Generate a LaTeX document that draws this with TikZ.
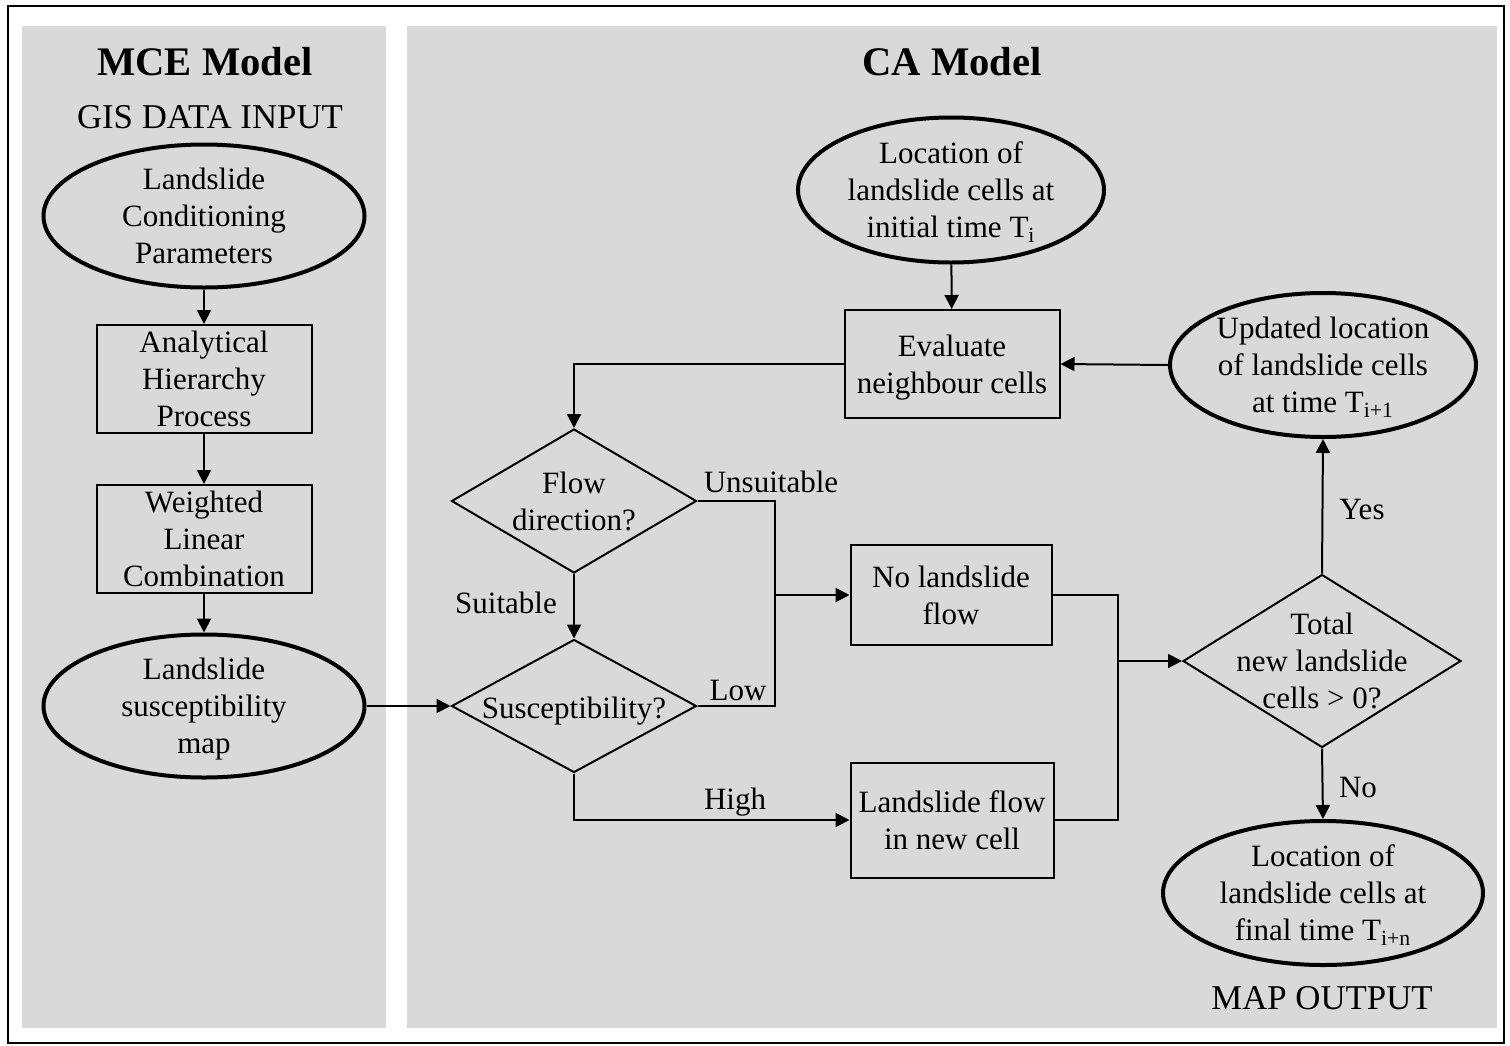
\documentclass[tikz,border=0pt]{standalone}
\usepackage{fontspec}
\setmainfont{Liberation Serif}
\usetikzlibrary{shapes.geometric,arrows.meta}

\begin{document}
\begin{tikzpicture}[x=0.5pt,y=-0.5pt,
  font=\fontsize{15.5}{18.5}\selectfont,
  panel/.style={fill=black!15},
  oval/.style={ellipse,draw,line width=2pt,inner sep=0pt,minimum width=160.5pt,minimum height=71.5pt},
  box/.style={rectangle,draw,line width=1pt,inner sep=0pt},
  dia/.style={diamond,draw,line width=1pt,inner sep=0pt},
  lbl/.style={align=center,inner sep=0pt},
  inlbl/.style={lbl,yshift=-2.75pt,execute at begin node=\strut,execute at end node=\strut},
  arr/.style={line width=1pt,-{Triangle[length=7pt,width=7pt]}},
  ln/.style={line width=1pt}]
\useasboundingbox (0,0) rectangle (1510,1045);
\draw[line width=1pt] (8,6) rectangle (1504,1043);
\fill[panel] (22,26) rectangle (386,1028);
\fill[panel] (407,26) rectangle (1497,1028);

% MCE side
\node[lbl,font=\fontsize{20.3}{24}\selectfont\bfseries] (mce) at (205,62) {MCE Model};
\node[lbl,font=\fontsize{17.4}{20}\selectfont] (gis) at (210,117) {GIS DATA INPUT};
\node[oval,label={[inlbl]center:Landslide\\Conditioning\\Parameters}] (lcp) at (204,216) {};
\node[box,minimum width=107.5pt,minimum height=54pt,label={[inlbl]center:Analytical\\Hierarchy\\Process}] (ahp) at (204,379) {};
\node[box,minimum width=107.5pt,minimum height=54pt,label={[inlbl]center:Weighted\\Linear\\Combination}] (wlc) at (204,539) {};
\node[oval,label={[inlbl]center:Landslide\\susceptibility\\map}] (lsm) at (204,706) {};

% CA side
\node[lbl,font=\fontsize{20.3}{24}\selectfont\bfseries] (ca) at (952,62) {CA Model};
\node[oval,minimum width=153pt,minimum height=72.5pt,label={[inlbl]center:Location of\\landslide cells at\\initial time T\textsubscript{i}}] (ini) at (951,190) {};
\node[box,minimum width=107.5pt,minimum height=54pt,label={[inlbl]center:Evaluate\\neighbour cells}] (eval) at (952,364) {};
\node[oval,minimum width=153pt,minimum height=72pt,label={[inlbl]center:Updated location\\of landslide cells\\at time T\textsubscript{i+1}}] (upd) at (1323,365) {};
\node[dia,minimum width=122.5pt,minimum height=72pt,label={[inlbl]center:Flow\\direction?}] (flow) at (574,501) {};
\node[dia,minimum width=122.5pt,minimum height=66.5pt,label={[inlbl]center:Susceptibility?}] (susc) at (574,706) {};
\node[box,minimum width=100.5pt,minimum height=50pt,label={[inlbl]center:No landslide\\flow}] (nlf) at (951,595) {};
\node[box,minimum width=101.5pt,minimum height=57.5pt,label={[inlbl]center:Landslide flow\\in new cell}] (lfn) at (952,820) {};
\node[dia,minimum width=139pt,minimum height=86.5pt,label={[inlbl]center:Total\\new landslide\\cells > 0?}] (tot) at (1322,661) {};
\node[oval,minimum width=160pt,minimum height=72pt,label={[inlbl]center:Location of\\landslide cells at\\final time T\textsubscript{i+n}}] (fin) at (1323,893) {};
\node[lbl,font=\fontsize{17.4}{20}\selectfont] (map) at (1322,998) {MAP OUTPUT};

% connectors
\draw[arr] (lcp) -- (ahp);
\draw[arr] (ahp) -- (wlc);
\draw[arr] (wlc) -- (lsm);
\draw[arr] (lsm.east) -- (susc.west);
\draw[arr] (ini) -- (eval);
\draw[arr] (eval.west) -| (flow.north);
\draw[arr] (flow.south) -- (susc.north);
\coordinate (jl) at (775,595);
\coordinate (jr) at (1118,661);
\draw[ln] (flow.east) -| (jl) |- (susc.east);
\draw[arr] (jl) -- (nlf.west);
\draw[arr] (susc.south) |- (lfn.west);
\draw[ln] (nlf.east) -| (jr) |- (lfn.east);
\draw[arr] (jr) -- (tot.west);
\draw[arr] (tot.north) -- (upd.south);
\draw[arr] (upd.west) -- (eval.east);
\draw[arr] (tot.south) -- (fin.north);

% branch labels
\node[lbl] (l1) at (771,482) {Unsuitable};
\node[lbl] (l2) at (506,603) {Suitable};
\node[lbl] (l3) at (738,690) {Low};
\node[lbl] (l4) at (735,802) {High};
\node[lbl] (l5) at (1362,509) {Yes};
\node[lbl] (l6) at (1358,787) {No};

\end{tikzpicture}
\end{document}
